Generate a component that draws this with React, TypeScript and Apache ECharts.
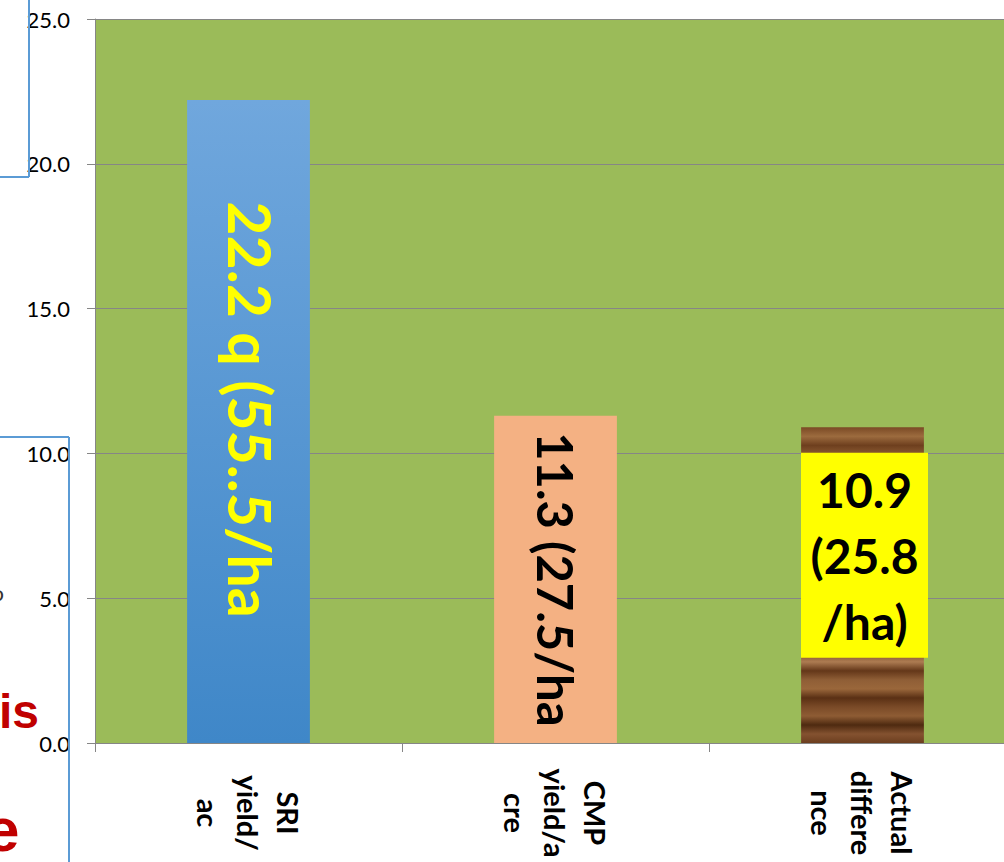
import React, { useEffect, useRef } from "react";
import * as echarts from "echarts";

const categories = ["SRI\nyield/\nac", "CMP\nyield/a\ncre", "Actual\ndiffere\nnce"];
const values = [22.2, 11.3, 10.9];
const valueLabels = ["22.2 q (55..5/ha", "11.3 (27.5/ha", "10.9\n(25.8\n/ha)"];
const yMin = 0;
const yMax = 25;
const yInterval = 5;

const woodStops = [
  "#7b4a25", "#9c6b3e", "#6e3f1e", "#8a5a32", "#a87848", "#7a4827", "#93613a", "#5e3518",
  "#865530", "#a06e42", "#7f4e2a", "#b08050", "#74442a", "#96643a", "#9a683c", "#683a1c",
  "#a57448", "#80502c", "#b3845a", "#8c5b33", "#6a3c1e", "#9e6c40", "#5c3216", "#7e4c28",
  "#a2714a", "#7c4a26", "#ad7c52", "#643719", "#8f5e36", "#9a673b", "#5a3014", "#7a4a27",
  "#8e5c34", "#4e2a10", "#845230", "#6c3e1f",
];

export default function App() {
  const ref = useRef<HTMLDivElement>(null);
  useEffect(() => {
    if (!ref.current) return;
    const chart = echarts.init(ref.current, undefined, { renderer: "svg" });
    const wood = new echarts.graphic.LinearGradient(
      0, 0, 0, 1,
      woodStops.map((c, i) => ({ offset: i / (woodStops.length - 1), color: c }))
    );
    const blue = new echarts.graphic.LinearGradient(0, 0, 0, 1, [
      { offset: 0, color: "#70a7dd" },
      { offset: 1, color: "#3f87c8" },
    ]);
    const barStyles = [
      {
        itemStyle: { color: blue },
        label: {
          show: true, position: "inside", rotate: -90, offset: [-12, -2],
          color: "#FFFF00", fontSize: 59, fontWeight: "bold", fontFamily: "Lato",
        },
      },
      {
        itemStyle: { color: "#F4B183" },
        label: {
          show: true, position: "inside", rotate: -90,
          color: "#000", fontSize: 49, fontWeight: "bold", fontFamily: "Lato",
        },
      },
      {
        itemStyle: { color: wood },
        label: {
          show: true, position: "inside", offset: [2, -30],
          color: "#000", fontSize: 48, fontWeight: "bold", fontFamily: "Lato",
          lineHeight: 66, backgroundColor: "#FFFF00", width: 111, align: "center",
          padding: [4, 8, 3, 8],
        },
      },
    ];
    const data = values.map((v, i) => ({
      value: v,
      itemStyle: barStyles[i].itemStyle,
      label: { ...barStyles[i].label, formatter: () => valueLabels[i] },
    }));
    const blueLine = { stroke: "#5B9BD5", lineWidth: 2 };
    chart.setOption({
      animation: false,
      grid: { left: 95, top: 19, bottom: 119, right: 0, show: true, backgroundColor: "#9BBB59", borderWidth: 0 },
      xAxis: {
        type: "category",
        data: categories,
        axisLine: { show: true, lineStyle: { color: "#868686", width: 1 } },
        axisTick: { show: true, length: 9, lineStyle: { color: "#868686" } },
        axisLabel: {
          rotate: -90, align: "center", verticalAlign: "middle", margin: 70,
          fontSize: 29, lineHeight: 40, fontWeight: "bold", color: "#000", fontFamily: "Lato",
          interval: 0,
        },
      },
      yAxis: {
        type: "value",
        min: yMin, max: yMax, interval: yInterval,
        axisLine: { show: true, lineStyle: { color: "#868686", width: 1 } },
        axisTick: { show: true, length: 8, lineStyle: { color: "#868686" } },
        splitLine: { show: true, lineStyle: { color: "#868686", width: 1 } },
        axisLabel: {
          margin: 25, fontSize: 22, color: "#000", fontFamily: "Lato",
          formatter: (v: number) => v.toFixed(1),
        },
      },
      series: [
        { type: "bar", data, barWidth: "40%" },
      ],
      graphic: [
        { type: "line", z: 100, shape: { x1: 29, y1: 0, x2: 29, y2: 177 }, style: blueLine },
        { type: "line", z: 100, shape: { x1: 0, y1: 177, x2: 29, y2: 177 }, style: blueLine },
        { type: "line", z: 100, shape: { x1: 0, y1: 437, x2: 69, y2: 437 }, style: blueLine },
        { type: "line", z: 100, shape: { x1: 69, y1: 437, x2: 69, y2: 862 }, style: blueLine },
        {
          type: "text", z: 100, x: -1, y: 711,
          style: { text: "is", fill: "#C00000", font: "bold 48px 'Liberation Sans'", textAlign: "left", verticalAlign: "middle" },
        },
        {
          type: "text", z: 100, x: -15, y: 829,
          style: { text: "e", fill: "#C00000", font: "bold 62px 'Liberation Sans'", textAlign: "left", verticalAlign: "middle" },
        },
        {
          type: "text", z: 100, x: 4, y: 592,
          style: { text: "o", fill: "#333", font: "22px Lato", textAlign: "right", verticalAlign: "middle" },
        },
      ],
    });
    return () => chart.dispose();
  }, []);
  return (
    <div style={{ position: "absolute", left: 0, top: 0, width: 1004, height: 862, overflow: "hidden" }}>
      <div ref={ref} style={{ width: 1016, height: 862 }} />
    </div>
  );
}
